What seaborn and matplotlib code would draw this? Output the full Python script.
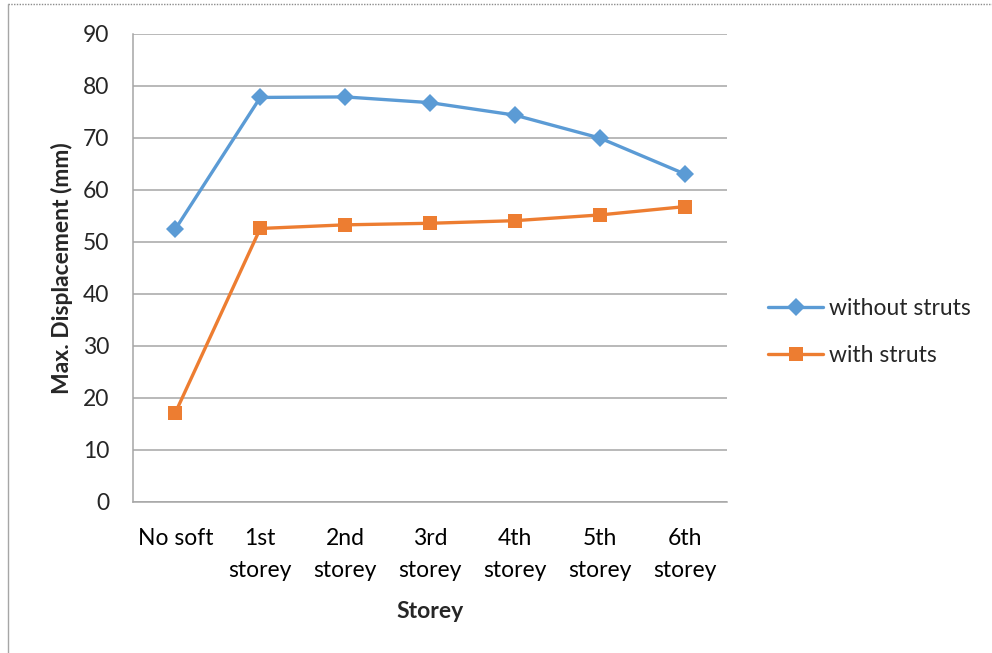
import matplotlib
matplotlib.use("Agg")
import matplotlib.pyplot as plt
import seaborn as sns
import pandas as pd
import numpy as np
from matplotlib.lines import Line2D

categories = ["No soft", "1st\nstorey", "2nd\nstorey", "3rd\nstorey", "4th\nstorey", "5th\nstorey", "6th\nstorey"]
without_struts = [52.5, 77.8, 77.9, 76.8, 74.4, 70.0, 63.1]
with_struts = [17.2, 52.6, 53.3, 53.6, 54.1, 55.2, 56.8]
series_names = ["without struts", "with struts"]
colors = ["#5b9bd5", "#ed7d31"]
markers = ["D", "s"]

sns.set_theme(style="white")
plt.rcParams["font.family"] = ["Lato", "DejaVu Sans"]

FS = 16.5

df = pd.DataFrame({
    "pos": list(range(len(categories))) * 2,
    "value": without_struts + with_struts,
    "series": [series_names[0]] * len(categories) + [series_names[1]] * len(categories),
})

fig = plt.figure(figsize=(9.92, 6.53), dpi=100)
ax = fig.add_axes([133/992, 1 - 502/653, (727-133)/992, (502-34)/653])

sns.lineplot(data=df, x="pos", y="value", hue="series", style="series",
             palette=colors, markers=markers, dashes=False, ax=ax,
             linewidth=2.4, markersize=9.5, markeredgewidth=0, legend=False)

ax.set_xlim(-0.5, len(categories) - 0.5)
ax.set_ylim(0, 90)
ax.set_yticks(np.arange(0, 91, 10))
ax.set_xticks(range(len(categories)))
ax.set_xticklabels(categories, fontsize=FS, linespacing=1.6)
ax.set_xticks(np.arange(-0.5, len(categories), 1), minor=True)
ax.tick_params(axis="x", which="major", length=0, pad=19, colors="black")
ax.tick_params(axis="x", which="minor", length=7, width=1, color="#a6a6a6", direction="out")
ax.tick_params(axis="y", which="major", length=7, width=1, color="#a6a6a6", pad=10, labelsize=FS)
ax.yaxis.grid(True, color="#a6a6a6", linewidth=1.1)
ax.set_axisbelow(True)
for s in ["top", "right"]:
    ax.spines[s].set_visible(False)
for s in ["left", "bottom"]:
    ax.spines[s].set_color("#a6a6a6")
    ax.spines[s].set_linewidth(1.1)

ax.set_xlabel("Storey", fontsize=FS, fontweight="bold", labelpad=15)
ax.set_ylabel("Max. Displacement (mm)", fontsize=FS, fontweight="bold", labelpad=7)

handles = [Line2D([0], [0], color=c, marker=m, linewidth=2.4, markersize=9.5, markeredgewidth=0)
           for c, m in zip(colors, markers)]
ax.legend(handles, series_names, loc="center left", bbox_to_anchor=(768/992, 1 - 332/653),
          bbox_transform=fig.transFigure, frameon=False, fontsize=FS, handlelength=2.4,
          handletextpad=0.25, labelspacing=1.15, borderaxespad=0, borderpad=0)

fig.add_artist(Line2D([8/992, 1], [1 - 4/653, 1 - 4/653], transform=fig.transFigure,
                      color="#8c8c8c", linewidth=1, linestyle=(0, (1, 1))))
fig.add_artist(Line2D([8/992, 8/992], [0, 1 - 4/653], transform=fig.transFigure,
                      color="#a6a6a6", linewidth=1))

fig.savefig("out.png", dpi=100)
